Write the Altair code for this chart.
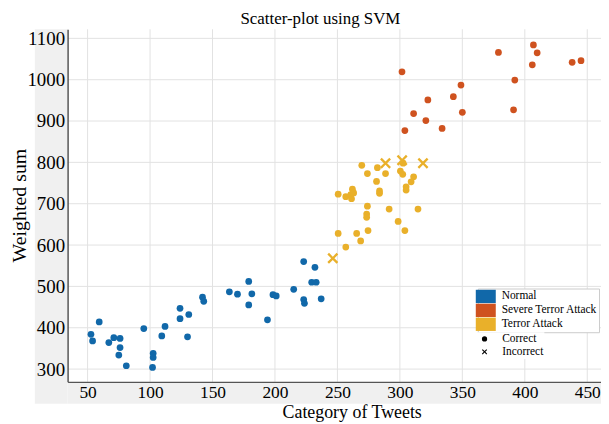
import altair as alt
import pandas as pd

# ---------------- data ----------------
normal_x = [52.7, 54, 59.3, 67, 71, 76, 76, 75, 81, 95, 102.5, 102.5, 102, 109.4, 112,
            124, 124, 131, 130, 142, 143, 163.5, 170, 179, 181.5, 179, 194, 198.4, 201,
            215, 223, 223, 223.6, 232, 229.4, 233, 237]
normal_y = [384, 368, 414, 364, 376, 374, 352, 334, 308, 398, 338, 328, 304, 380, 403,
            447, 422, 432, 378, 474, 464, 487, 481, 512, 482, 455, 419, 480, 477,
            493, 560, 468, 459, 546, 510, 510, 470]

severe_x = [301.7, 348.9, 342.8, 322.4, 311, 350, 320.8, 333.8, 304, 378.9, 406.9,
            409.9, 406, 392, 391, 437.9, 445]
severe_y = [1019, 987, 959, 951, 918, 921, 901, 882, 877, 1066, 1084,
            1065, 1036, 999, 927, 1042, 1046]

terror_x = [256.7, 250.6, 265.4, 268.6, 274.5, 273.4, 273.4, 274, 291.4, 298.6, 304,
            314.5, 250.6, 256.7, 260.7, 261.3, 262, 263, 269.5, 274, 282, 281.3, 283.7,
            283.7, 288.5, 300.4, 302.3, 302.6, 311, 309, 305, 305]
terror_y = [595, 628, 628, 610, 635, 675, 667, 694, 687, 657, 635,
            687, 723, 717, 722, 712, 735, 726, 793, 773, 787, 754, 731,
            725, 773, 779, 771, 798, 765, 753, 741, 733]

incorrect_x = [246.3, 288.5, 301.8, 318.5]
incorrect_y = [568, 798, 805, 798]

classes = ["Normal", "Severe Terror Attack", "Terror Attack"]
class_colors = ["#1168a9", "#cf521f", "#e9b02a"]
results = ["Correct", "Incorrect"]

x_ticks = [50, 100, 150, 200, 250, 300, 350, 400, 450]
y_ticks = [300, 400, 500, 600, 700, 800, 900, 1000, 1100]

# ---------------- build table ----------------
rows = []
for xs, ys, c, r in [(normal_x, normal_y, "Normal", "Correct"),
                     (severe_x, severe_y, "Severe Terror Attack", "Correct"),
                     (terror_x, terror_y, "Terror Attack", "Correct"),
                     (incorrect_x, incorrect_y, "Terror Attack", "Incorrect")]:
    for a, b in zip(xs, ys):
        rows.append({"x": a, "y": b, "cls": c, "res": r})
df = pd.DataFrame(rows)

W, H = 537, 355
SERIF = "Liberation Serif"
xpath = "M-1,-0.7L-0.7,-1L0,-0.3L0.7,-1L1,-0.7L0.3,0L1,0.7L0.7,1L0,0.3L-0.7,1L-1,0.7L-0.3,0Z"
rectpath = "M-1.5,-1H1.5V1H-1.5Z"

xscale = alt.Scale(domain=[34, 461], nice=False, zero=False)
yscale = alt.Scale(domain=[269, 1122], nice=False, zero=False)

xaxis = alt.Axis(values=x_ticks, format="d", grid=False, ticks=False,
                 domainColor="#555555", domainWidth=1.5, labelFont=SERIF,
                 labelFontSize=17.5, labelColor="black", labelPadding=2,
                 labelFlush=False, title="Category of Tweets",
                 titleFont=SERIF, titleFontSize=18, titleFontWeight="normal",
                 titleColor="black", titleX=286, titleY=22, titleBaseline="top",
                 titleAlign="center", zindex=1)
yaxis = alt.Axis(values=y_ticks, format="d", grid=False, ticks=False,
                 domainColor="#555555", domainWidth=1.5, labelFont=SERIF,
                 labelFontSize=19, labelColor="black", labelPadding=3,
                 labelFlush=False, title="Weighted sum",
                 titleFont=SERIF, titleFontSize=20, titleFontWeight="normal",
                 titleColor="black", titleX=-48, titleY=177, titleAngle=270,
                 titleBaseline="middle", titleAlign="center", zindex=1)

X = alt.X("x:Q", scale=xscale, axis=xaxis)
Y = alt.Y("y:Q", scale=yscale, axis=yaxis)

color = alt.Color("cls:N", scale=alt.Scale(domain=classes, range=class_colors),
                  legend=alt.Legend(title=None, orient="none", legendX=413, legendY=261,
                                    symbolType=rectpath, symbolSize=180,
                                    symbolStrokeWidth=0, symbolOpacity=1,
                                    labelFont=SERIF, labelFontSize=11.5,
                                    labelColor="black", labelOffset=9,
                                    fillColor="white", padding=1, rowPadding=0,
                                    strokeColor="#cccccc"))
shape = alt.Shape("res:N", scale=alt.Scale(domain=results, range=["circle", xpath]),
                  legend=alt.Legend(title=None, orient="none", legendX=413, legendY=305,
                                    symbolFillColor="black", symbolStrokeWidth=0,
                                    symbolSize=28, symbolOpacity=1,
                                    labelFont=SERIF, labelFontSize=11.5,
                                    labelColor="black", labelOffset=12,
                                    fillColor="white", padding=1, rowPadding=0))

one = pd.DataFrame({"a": [0]})
gray = "#f0f0f0"
left_strip = alt.Chart(one).mark_rect(color=gray).encode(
    x=alt.value(-33), x2=alt.value(0), y=alt.value(0), y2=alt.value(H + 22))
bottom_strip = alt.Chart(one).mark_rect(color=gray).encode(
    x=alt.value(0), x2=alt.value(W + 4), y=alt.value(H), y2=alt.value(H + 22))

xgrid = alt.Chart(pd.DataFrame({"x": x_ticks})).mark_rule(
    color="#e2e2e2", strokeWidth=1).encode(x=X)
ygrid = alt.Chart(pd.DataFrame({"y": y_ticks})).mark_rule(
    color="#e2e2e2", strokeWidth=1).encode(y=Y)

base = alt.Chart(df).encode(x=X, y=Y, color=color, shape=shape)
circles = base.transform_filter(alt.datum.res == "Correct").mark_point(
    filled=True, size=46, opacity=1, strokeWidth=0)
crosses = base.transform_filter(alt.datum.res == "Incorrect").mark_point(
    filled=True, size=120, opacity=1, strokeWidth=0)

chart = alt.layer(left_strip, bottom_strip, xgrid, ygrid, circles, crosses).properties(
    width=W, height=H,
    title=alt.TitleParams("Scatter-plot using SVM", font=SERIF, fontSize=17,
                          fontWeight="normal", color="black", dx=-14, offset=1),
    autosize=alt.AutoSizeParams(type="none"),
    padding={"left": 60, "top": 20, "right": 0, "bottom": 40},
    background="white",
).configure_view(stroke=None, fill="white")

chart.save("out.html", embed_options={"renderer": "svg", "actions": False})
